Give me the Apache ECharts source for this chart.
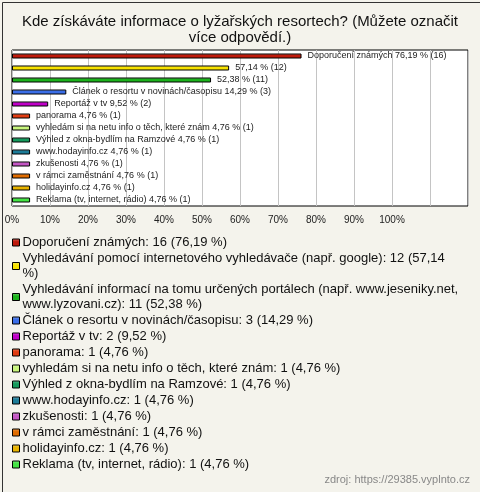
<!DOCTYPE html>
<html>
<head>
<meta charset="utf-8">
<script src="https://cdn.jsdelivr.net/npm/echarts@6/dist/echarts.min.js"></script>
<style>
html,body{margin:0;padding:0;background:#f4f3ec;}
#c{width:480px;height:492px;}
</style>
</head>
<body>
<div id="c"></div>
<script>
const titleText = 'Kde získáváte informace o lyžařských resortech? (Můžete označit\nvíce odpovědí.)';
const categories = [
  'Doporučení známých',
  'Vyhledávání pomocí internetového vyhledávače (např. google)',
  'Vyhledávání informací na tomu určených portálech (např. www.jeseniky.net, www.lyzovani.cz)',
  'Článek o resortu v novinách/časopisu',
  'Reportáž v tv',
  'panorama',
  'vyhledám si na netu info o těch, které znám',
  'Výhled z okna-bydlím na Ramzové',
  'www.hodayinfo.cz',
  'zkušenosti',
  'v rámci zaměstnání',
  'holidayinfo.cz',
  'Reklama (tv, internet, rádio)'
];
const counts = [16, 12, 11, 3, 2, 1, 1, 1, 1, 1, 1, 1, 1];
const percents = [76.19, 57.14, 52.38, 14.29, 9.52, 4.76, 4.76, 4.76, 4.76, 4.76, 4.76, 4.76, 4.76];
const showNameInBarLabel = [true, false, false, true, true, true, true, true, true, true, true, true, true];
const colors = ['#bf1a0c', '#f7e200', '#1cb31c', '#3a6ee8', '#c000c8', '#e03c12', '#c8f57c', '#159a5c', '#1c7c98', '#c456c4', '#e06c00', '#e8b400', '#44e444'];
const tickValues = [0, 10, 20, 30, 40, 50, 60, 70, 80, 90, 100];
const sourceText = 'zdroj: https://29385.vyplnto.cz';

const FONT = 'Liberation Sans, Arial, sans-serif';
const fmtPct = v => v.toFixed(2).replace('.', ',');

// simple word wrap for legend text
const measureCtx = document.createElement('canvas').getContext('2d');
measureCtx.font = '13px ' + FONT;
function wrap(text, maxW) {
  const words = text.split(' ');
  const lines = [];
  let cur = '';
  words.forEach(w => {
    const test = cur ? cur + ' ' + w : w;
    if (cur && measureCtx.measureText(test).width > maxW) {
      lines.push(cur);
      cur = w;
    } else {
      cur = test;
    }
  });
  if (cur) lines.push(cur);
  return lines.join('\n');
}

const chart = echarts.init(document.getElementById('c'), null, {renderer: 'canvas'});

const series = categories.map((name, i) => ({
  type: 'bar',
  name: name,
  barWidth: 5,
  barGap: '-100%',
  data: percents.map((v, j) => j === i ? v : '-'),
  itemStyle: {
    color: new echarts.graphic.LinearGradient(0, 0, 0, 1, [
      {offset: 0, color: echarts.color.lift(colors[i], 0.35)},
      {offset: 0.4, color: colors[i]},
      {offset: 1, color: colors[i]}
    ]),
    borderColor: '#000',
    borderWidth: 1
  },
  label: {
    show: true,
    position: 'right',
    distance: 6,
    fontSize: 9,
    color: '#222',
    fontFamily: FONT,
    formatter: () => (showNameInBarLabel[i] ? name + ' ' : '') + fmtPct(percents[i]) + ' % (' + counts[i] + ')'
  },
  emphasis: {disabled: true}
}));

const option = {
  backgroundColor: '#f4f3ec',
  animation: false,
  color: colors,
  title: {
    text: titleText,
    left: 'center',
    top: 9,
    textStyle: {
      fontSize: 15,
      fontWeight: 'normal',
      color: '#111',
      lineHeight: 16,
      fontFamily: FONT
    }
  },
  grid: {
    left: 12,
    right: 12,
    top: 50,
    height: 156,
    show: true,
    backgroundColor: '#fff',
    borderColor: '#000',
    borderWidth: 1
  },
  xAxis: {
    type: 'value',
    min: 0,
    max: 120,
    interval: 10,
    axisLine: {show: false},
    axisTick: {show: false},
    splitLine: {show: true, lineStyle: {color: '#c4c4c4', width: 1}},
    axisLabel: {
      margin: 9,
      fontSize: 10,
      color: '#222',
      fontFamily: FONT,
      formatter: v => tickValues.indexOf(v) >= 0 ? v + '%' : ''
    }
  },
  yAxis: {
    type: 'category',
    data: categories,
    inverse: true,
    axisLine: {show: false},
    axisTick: {show: false},
    axisLabel: {show: false},
    splitLine: {show: false}
  },
  legend: {
    orient: 'vertical',
    left: 7,
    top: 230,
    itemWidth: 7,
    itemHeight: 7,
    itemGap: 1,
    icon: 'rect',
    selectedMode: false,
    itemStyle: {borderColor: '#000', borderWidth: 1},
    textStyle: {
      fontSize: 13,
      color: '#111',
      lineHeight: 15,
      fontFamily: FONT,
      padding: [0, 0, 0, -2]
    },
    formatter: name => {
      const i = categories.indexOf(name);
      return wrap(name + ': ' + counts[i] + ' (' + fmtPct(percents[i]) + ' %)', 439);
    },
    data: categories
  },
  graphic: [
    {
      type: 'text',
      right: 10,
      top: 474,
      style: {
        text: sourceText,
        fill: '#888',
        fontSize: 11,
        fontFamily: FONT
      }
    },
    {
      type: 'rect',
      left: 0,
      top: 0,
      silent: true,
      shape: {x: 0.5, y: 0.5, width: 479, height: 491},
      style: {fill: 'none', stroke: '#333', lineWidth: 1}
    }
  ],
  series: series
};
chart.setOption(option);
</script>
</body>
</html>
